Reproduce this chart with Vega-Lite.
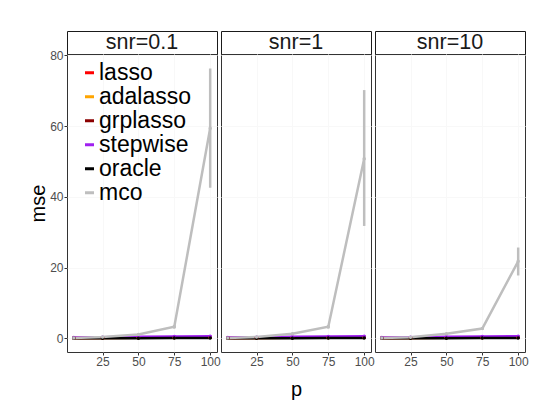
{
  "$schema": "https://vega.github.io/schema/vega-lite/v6.json",
  "autosize": {"type": "pad"},
  "padding": {"left": 28, "top": 30, "right": 4, "bottom": 4},
  "datasets": {
    "mse": [
      {"snr": "snr=0.1", "method": "lasso", "p": 5, "mse": 0.15, "lo": 0.0, "hi": 0.5},
      {"snr": "snr=0.1", "method": "lasso", "p": 25, "mse": 0.2, "lo": 0.0, "hi": 0.6},
      {"snr": "snr=0.1", "method": "lasso", "p": 50, "mse": 0.25, "lo": 0.0, "hi": 0.7},
      {"snr": "snr=0.1", "method": "lasso", "p": 75, "mse": 0.3, "lo": 0.0, "hi": 0.7},
      {"snr": "snr=0.1", "method": "lasso", "p": 100, "mse": 0.35, "lo": 0.0, "hi": 0.8},
      {"snr": "snr=0.1", "method": "adalasso", "p": 5, "mse": 0.1, "lo": 0.0, "hi": 0.3},
      {"snr": "snr=0.1", "method": "adalasso", "p": 25, "mse": 0.15, "lo": 0.0, "hi": 0.35},
      {"snr": "snr=0.1", "method": "adalasso", "p": 50, "mse": 0.2, "lo": 0.0, "hi": 0.4},
      {"snr": "snr=0.1", "method": "adalasso", "p": 75, "mse": 0.2, "lo": 0.0, "hi": 0.4},
      {"snr": "snr=0.1", "method": "adalasso", "p": 100, "mse": 0.25, "lo": 0.05, "hi": 0.45},
      {"snr": "snr=0.1", "method": "grplasso", "p": 5, "mse": 0.12, "lo": 0.0, "hi": 0.3},
      {"snr": "snr=0.1", "method": "grplasso", "p": 25, "mse": 0.15, "lo": 0.0, "hi": 0.35},
      {"snr": "snr=0.1", "method": "grplasso", "p": 50, "mse": 0.2, "lo": 0.0, "hi": 0.4},
      {"snr": "snr=0.1", "method": "grplasso", "p": 75, "mse": 0.25, "lo": 0.05, "hi": 0.45},
      {"snr": "snr=0.1", "method": "grplasso", "p": 100, "mse": 0.3, "lo": 0.1, "hi": 0.5},
      {"snr": "snr=0.1", "method": "stepwise", "p": 5, "mse": 0.25, "lo": 0.05, "hi": 0.45},
      {"snr": "snr=0.1", "method": "stepwise", "p": 25, "mse": 0.35, "lo": 0.15, "hi": 0.55},
      {"snr": "snr=0.1", "method": "stepwise", "p": 50, "mse": 0.45, "lo": 0.25, "hi": 0.65},
      {"snr": "snr=0.1", "method": "stepwise", "p": 75, "mse": 0.55, "lo": 0.35, "hi": 0.75},
      {"snr": "snr=0.1", "method": "stepwise", "p": 100, "mse": 0.65, "lo": 0.45, "hi": 0.85},
      {"snr": "snr=0.1", "method": "oracle", "p": 5, "mse": 0.05, "lo": 0.0, "hi": 0.1},
      {"snr": "snr=0.1", "method": "oracle", "p": 25, "mse": 0.05, "lo": 0.0, "hi": 0.1},
      {"snr": "snr=0.1", "method": "oracle", "p": 50, "mse": 0.08, "lo": 0.0, "hi": 0.15},
      {"snr": "snr=0.1", "method": "oracle", "p": 75, "mse": 0.1, "lo": 0.0, "hi": 0.2},
      {"snr": "snr=0.1", "method": "oracle", "p": 100, "mse": 0.12, "lo": 0.0, "hi": 0.25},
      {"snr": "snr=0.1", "method": "mco", "p": 5, "mse": 0.1, "lo": 0.05, "hi": 0.15},
      {"snr": "snr=0.1", "method": "mco", "p": 25, "mse": 0.4, "lo": 0.3, "hi": 0.5},
      {"snr": "snr=0.1", "method": "mco", "p": 50, "mse": 1.1, "lo": 0.9, "hi": 1.3},
      {"snr": "snr=0.1", "method": "mco", "p": 75, "mse": 3.3, "lo": 2.8, "hi": 3.8},
      {"snr": "snr=0.1", "method": "mco", "p": 100, "mse": 59.4, "lo": 42.6, "hi": 76.3},

      {"snr": "snr=1", "method": "lasso", "p": 5, "mse": 0.15, "lo": 0.0, "hi": 0.5},
      {"snr": "snr=1", "method": "lasso", "p": 25, "mse": 0.2, "lo": 0.0, "hi": 0.6},
      {"snr": "snr=1", "method": "lasso", "p": 50, "mse": 0.25, "lo": 0.0, "hi": 0.7},
      {"snr": "snr=1", "method": "lasso", "p": 75, "mse": 0.3, "lo": 0.0, "hi": 0.7},
      {"snr": "snr=1", "method": "lasso", "p": 100, "mse": 0.35, "lo": 0.0, "hi": 0.8},
      {"snr": "snr=1", "method": "adalasso", "p": 5, "mse": 0.1, "lo": 0.0, "hi": 0.3},
      {"snr": "snr=1", "method": "adalasso", "p": 25, "mse": 0.15, "lo": 0.0, "hi": 0.35},
      {"snr": "snr=1", "method": "adalasso", "p": 50, "mse": 0.2, "lo": 0.0, "hi": 0.4},
      {"snr": "snr=1", "method": "adalasso", "p": 75, "mse": 0.2, "lo": 0.0, "hi": 0.4},
      {"snr": "snr=1", "method": "adalasso", "p": 100, "mse": 0.25, "lo": 0.05, "hi": 0.45},
      {"snr": "snr=1", "method": "grplasso", "p": 5, "mse": 0.12, "lo": 0.0, "hi": 0.3},
      {"snr": "snr=1", "method": "grplasso", "p": 25, "mse": 0.15, "lo": 0.0, "hi": 0.35},
      {"snr": "snr=1", "method": "grplasso", "p": 50, "mse": 0.2, "lo": 0.0, "hi": 0.4},
      {"snr": "snr=1", "method": "grplasso", "p": 75, "mse": 0.25, "lo": 0.05, "hi": 0.45},
      {"snr": "snr=1", "method": "grplasso", "p": 100, "mse": 0.3, "lo": 0.1, "hi": 0.5},
      {"snr": "snr=1", "method": "stepwise", "p": 5, "mse": 0.25, "lo": 0.05, "hi": 0.45},
      {"snr": "snr=1", "method": "stepwise", "p": 25, "mse": 0.35, "lo": 0.15, "hi": 0.55},
      {"snr": "snr=1", "method": "stepwise", "p": 50, "mse": 0.45, "lo": 0.25, "hi": 0.65},
      {"snr": "snr=1", "method": "stepwise", "p": 75, "mse": 0.55, "lo": 0.35, "hi": 0.75},
      {"snr": "snr=1", "method": "stepwise", "p": 100, "mse": 0.65, "lo": 0.45, "hi": 0.85},
      {"snr": "snr=1", "method": "oracle", "p": 5, "mse": 0.05, "lo": 0.0, "hi": 0.1},
      {"snr": "snr=1", "method": "oracle", "p": 25, "mse": 0.05, "lo": 0.0, "hi": 0.1},
      {"snr": "snr=1", "method": "oracle", "p": 50, "mse": 0.08, "lo": 0.0, "hi": 0.15},
      {"snr": "snr=1", "method": "oracle", "p": 75, "mse": 0.1, "lo": 0.0, "hi": 0.2},
      {"snr": "snr=1", "method": "oracle", "p": 100, "mse": 0.12, "lo": 0.0, "hi": 0.25},
      {"snr": "snr=1", "method": "mco", "p": 5, "mse": 0.1, "lo": 0.05, "hi": 0.15},
      {"snr": "snr=1", "method": "mco", "p": 25, "mse": 0.4, "lo": 0.3, "hi": 0.5},
      {"snr": "snr=1", "method": "mco", "p": 50, "mse": 1.3, "lo": 1.1, "hi": 1.5},
      {"snr": "snr=1", "method": "mco", "p": 75, "mse": 3.3, "lo": 2.8, "hi": 3.8},
      {"snr": "snr=1", "method": "mco", "p": 100, "mse": 50.8, "lo": 31.8, "hi": 70.2},

      {"snr": "snr=10", "method": "lasso", "p": 5, "mse": 0.15, "lo": 0.0, "hi": 0.5},
      {"snr": "snr=10", "method": "lasso", "p": 25, "mse": 0.2, "lo": 0.0, "hi": 0.6},
      {"snr": "snr=10", "method": "lasso", "p": 50, "mse": 0.25, "lo": 0.0, "hi": 0.7},
      {"snr": "snr=10", "method": "lasso", "p": 75, "mse": 0.3, "lo": 0.0, "hi": 0.7},
      {"snr": "snr=10", "method": "lasso", "p": 100, "mse": 0.35, "lo": 0.0, "hi": 0.8},
      {"snr": "snr=10", "method": "adalasso", "p": 5, "mse": 0.1, "lo": 0.0, "hi": 0.3},
      {"snr": "snr=10", "method": "adalasso", "p": 25, "mse": 0.15, "lo": 0.0, "hi": 0.35},
      {"snr": "snr=10", "method": "adalasso", "p": 50, "mse": 0.2, "lo": 0.0, "hi": 0.4},
      {"snr": "snr=10", "method": "adalasso", "p": 75, "mse": 0.2, "lo": 0.0, "hi": 0.4},
      {"snr": "snr=10", "method": "adalasso", "p": 100, "mse": 0.25, "lo": 0.05, "hi": 0.45},
      {"snr": "snr=10", "method": "grplasso", "p": 5, "mse": 0.12, "lo": 0.0, "hi": 0.3},
      {"snr": "snr=10", "method": "grplasso", "p": 25, "mse": 0.15, "lo": 0.0, "hi": 0.35},
      {"snr": "snr=10", "method": "grplasso", "p": 50, "mse": 0.2, "lo": 0.0, "hi": 0.4},
      {"snr": "snr=10", "method": "grplasso", "p": 75, "mse": 0.25, "lo": 0.05, "hi": 0.45},
      {"snr": "snr=10", "method": "grplasso", "p": 100, "mse": 0.3, "lo": 0.1, "hi": 0.5},
      {"snr": "snr=10", "method": "stepwise", "p": 5, "mse": 0.25, "lo": 0.05, "hi": 0.45},
      {"snr": "snr=10", "method": "stepwise", "p": 25, "mse": 0.35, "lo": 0.15, "hi": 0.55},
      {"snr": "snr=10", "method": "stepwise", "p": 50, "mse": 0.45, "lo": 0.25, "hi": 0.65},
      {"snr": "snr=10", "method": "stepwise", "p": 75, "mse": 0.55, "lo": 0.35, "hi": 0.75},
      {"snr": "snr=10", "method": "stepwise", "p": 100, "mse": 0.65, "lo": 0.45, "hi": 0.85},
      {"snr": "snr=10", "method": "oracle", "p": 5, "mse": 0.05, "lo": 0.0, "hi": 0.1},
      {"snr": "snr=10", "method": "oracle", "p": 25, "mse": 0.05, "lo": 0.0, "hi": 0.1},
      {"snr": "snr=10", "method": "oracle", "p": 50, "mse": 0.08, "lo": 0.0, "hi": 0.15},
      {"snr": "snr=10", "method": "oracle", "p": 75, "mse": 0.1, "lo": 0.0, "hi": 0.2},
      {"snr": "snr=10", "method": "oracle", "p": 100, "mse": 0.12, "lo": 0.0, "hi": 0.25},
      {"snr": "snr=10", "method": "mco", "p": 5, "mse": 0.1, "lo": 0.05, "hi": 0.15},
      {"snr": "snr=10", "method": "mco", "p": 25, "mse": 0.35, "lo": 0.25, "hi": 0.45},
      {"snr": "snr=10", "method": "mco", "p": 50, "mse": 1.3, "lo": 1.1, "hi": 1.5},
      {"snr": "snr=10", "method": "mco", "p": 75, "mse": 2.8, "lo": 2.4, "hi": 3.2},
      {"snr": "snr=10", "method": "mco", "p": 100, "mse": 21.8, "lo": 17.8, "hi": 25.7}
    ]
  },
  "config": {
    "font": "Liberation Sans",
    "view": {"stroke": "#333333", "strokeWidth": 1},
    "axis": {
      "labelFont": "Liberation Sans",
      "labelFontSize": 12,
      "labelColor": "#4d4d4d",
      "labelPadding": 1,
      "tickColor": "#333333",
      "tickSize": 3,
      "domain": false,
      "grid": true,
      "gridColor": "#f8f8f8",
      "titleFont": "Liberation Sans",
      "titleFontSize": 20,
      "titleFontWeight": "normal",
      "titleColor": "#000000"
    },
    "axisY": {"titlePadding": 1},
    "axisX": {"titlePadding": 12},
    "legend": {
      "title": null,
      "padding": 0,
      "labelFont": "Liberation Sans",
      "labelFontSize": 23,
      "labelColor": "#000000",
      "labelLimit": 0,
      "labelOffset": -2,
      "rowPadding": 0,
      "clipHeight": 17.3,
      "symbolType": "stroke",
      "symbolStrokeWidth": 3,
      "symbolSize": 81
    }
  },
  "spacing": -2,
  "resolve": {
    "scale": {"x": "independent", "y": "independent", "color": "independent"},
    "legend": {"color": "independent"}
  },
  "hconcat": [
    {
      "spacing": 0,
      "bounds": "flush",
      "resolve": {
        "scale": {"x": "independent", "y": "independent", "color": "independent"},
        "legend": {"color": "independent"}
      },
      "vconcat": [
        {
          "data": {"values": [{"snr": "snr=0.1"}]},
          "width": 150,
          "height": 23,
          "view": {"stroke": "#1a1a1a"},
          "mark": {"type": "text", "fontSize": 21.5, "color": "#1a1a1a"},
          "encoding": {
            "x": {"field": "snr", "type": "nominal", "axis": null},
            "y": {"field": "snr", "type": "nominal", "axis": null},
            "text": {"field": "snr"}
          }
        },
        {
          "data": {"name": "mse"},
          "transform": [{"filter": "datum.snr === 'snr=0.1'"}],
          "width": 150,
          "height": 298,
          "encoding": {
            "x": {"field": "p", "type": "quantitative", "scale": {"domain": [0.25, 104.75], "nice": false, "zero": false}, "axis": {"title": null, "values": [25, 50, 75, 100]}},
            "color": {
              "field": "method", "type": "nominal",
              "scale": {"domain": ["lasso", "adalasso", "grplasso", "stepwise", "oracle", "mco"], "range": ["#ff0000", "#ffa500", "#8b0000", "#a020f0", "#000000", "#bebebe"]},
              "legend": {"orient": "none", "legendX": 11, "legendY": 10}
            }
          },
          "layer": [
            {
              "mark": {"type": "line", "strokeWidth": 2.5},
              "encoding": {"y": {"field": "mse", "type": "quantitative", "scale": {"domain": [-3.83, 80.4], "nice": false, "zero": false}, "axis": {"title": "mse", "values": [0, 20, 40, 60, 80]}}}
            },
            {
              "mark": {"type": "rule", "strokeWidth": 2.5},
              "encoding": {
                "y": {"field": "lo", "type": "quantitative", "scale": {"domain": [-3.83, 80.4], "nice": false, "zero": false}, "axis": {"title": "mse", "values": [0, 20, 40, 60, 80]}},
                "y2": {"field": "hi"}
              }
            },
            {
              "mark": {"type": "point", "filled": true, "size": 12, "opacity": 1},
              "encoding": {"y": {"field": "mse", "type": "quantitative", "scale": {"domain": [-3.83, 80.4], "nice": false, "zero": false}, "axis": {"title": "mse", "values": [0, 20, 40, 60, 80]}}}
            }
          ]
        }
      ]
    },
    {
      "spacing": 0,
      "bounds": "flush",
      "resolve": {
        "scale": {"x": "independent", "y": "independent", "color": "independent"},
        "legend": {"color": "independent"}
      },
      "vconcat": [
        {
          "data": {"values": [{"snr": "snr=1"}]},
          "width": 150,
          "height": 23,
          "view": {"stroke": "#1a1a1a"},
          "mark": {"type": "text", "fontSize": 21.5, "color": "#1a1a1a"},
          "encoding": {
            "x": {"field": "snr", "type": "nominal", "axis": null},
            "y": {"field": "snr", "type": "nominal", "axis": null},
            "text": {"field": "snr"}
          }
        },
        {
          "data": {"name": "mse"},
          "transform": [{"filter": "datum.snr === 'snr=1'"}],
          "width": 150,
          "height": 298,
          "encoding": {
            "x": {"field": "p", "type": "quantitative", "scale": {"domain": [0.25, 104.75], "nice": false, "zero": false}, "axis": {"title": "p", "values": [25, 50, 75, 100]}},
            "color": {
              "field": "method", "type": "nominal",
              "scale": {"domain": ["lasso", "adalasso", "grplasso", "stepwise", "oracle", "mco"], "range": ["#ff0000", "#ffa500", "#8b0000", "#a020f0", "#000000", "#bebebe"]},
              "legend": null
            }
          },
          "layer": [
            {
              "mark": {"type": "line", "strokeWidth": 2.5},
              "encoding": {"y": {"field": "mse", "type": "quantitative", "scale": {"domain": [-3.83, 80.4], "nice": false, "zero": false}, "axis": {"title": null, "labels": false, "ticks": false, "values": [0, 20, 40, 60, 80]}}}
            },
            {
              "mark": {"type": "rule", "strokeWidth": 2.5},
              "encoding": {
                "y": {"field": "lo", "type": "quantitative", "scale": {"domain": [-3.83, 80.4], "nice": false, "zero": false}, "axis": {"title": null, "labels": false, "ticks": false, "values": [0, 20, 40, 60, 80]}},
                "y2": {"field": "hi"}
              }
            },
            {
              "mark": {"type": "point", "filled": true, "size": 12, "opacity": 1},
              "encoding": {"y": {"field": "mse", "type": "quantitative", "scale": {"domain": [-3.83, 80.4], "nice": false, "zero": false}, "axis": {"title": null, "labels": false, "ticks": false, "values": [0, 20, 40, 60, 80]}}}
            }
          ]
        }
      ]
    },
    {
      "spacing": 0,
      "bounds": "flush",
      "resolve": {
        "scale": {"x": "independent", "y": "independent", "color": "independent"},
        "legend": {"color": "independent"}
      },
      "vconcat": [
        {
          "data": {"values": [{"snr": "snr=10"}]},
          "width": 150,
          "height": 23,
          "view": {"stroke": "#1a1a1a"},
          "mark": {"type": "text", "fontSize": 21.5, "color": "#1a1a1a"},
          "encoding": {
            "x": {"field": "snr", "type": "nominal", "axis": null},
            "y": {"field": "snr", "type": "nominal", "axis": null},
            "text": {"field": "snr"}
          }
        },
        {
          "data": {"name": "mse"},
          "transform": [{"filter": "datum.snr === 'snr=10'"}],
          "width": 150,
          "height": 298,
          "encoding": {
            "x": {"field": "p", "type": "quantitative", "scale": {"domain": [0.25, 104.75], "nice": false, "zero": false}, "axis": {"title": null, "values": [25, 50, 75, 100]}},
            "color": {
              "field": "method", "type": "nominal",
              "scale": {"domain": ["lasso", "adalasso", "grplasso", "stepwise", "oracle", "mco"], "range": ["#ff0000", "#ffa500", "#8b0000", "#a020f0", "#000000", "#bebebe"]},
              "legend": null
            }
          },
          "layer": [
            {
              "mark": {"type": "line", "strokeWidth": 2.5},
              "encoding": {"y": {"field": "mse", "type": "quantitative", "scale": {"domain": [-3.83, 80.4], "nice": false, "zero": false}, "axis": {"title": null, "labels": false, "ticks": false, "values": [0, 20, 40, 60, 80]}}}
            },
            {
              "mark": {"type": "rule", "strokeWidth": 2.5},
              "encoding": {
                "y": {"field": "lo", "type": "quantitative", "scale": {"domain": [-3.83, 80.4], "nice": false, "zero": false}, "axis": {"title": null, "labels": false, "ticks": false, "values": [0, 20, 40, 60, 80]}},
                "y2": {"field": "hi"}
              }
            },
            {
              "mark": {"type": "point", "filled": true, "size": 12, "opacity": 1},
              "encoding": {"y": {"field": "mse", "type": "quantitative", "scale": {"domain": [-3.83, 80.4], "nice": false, "zero": false}, "axis": {"title": null, "labels": false, "ticks": false, "values": [0, 20, 40, 60, 80]}}}
            }
          ]
        }
      ]
    }
  ]
}
